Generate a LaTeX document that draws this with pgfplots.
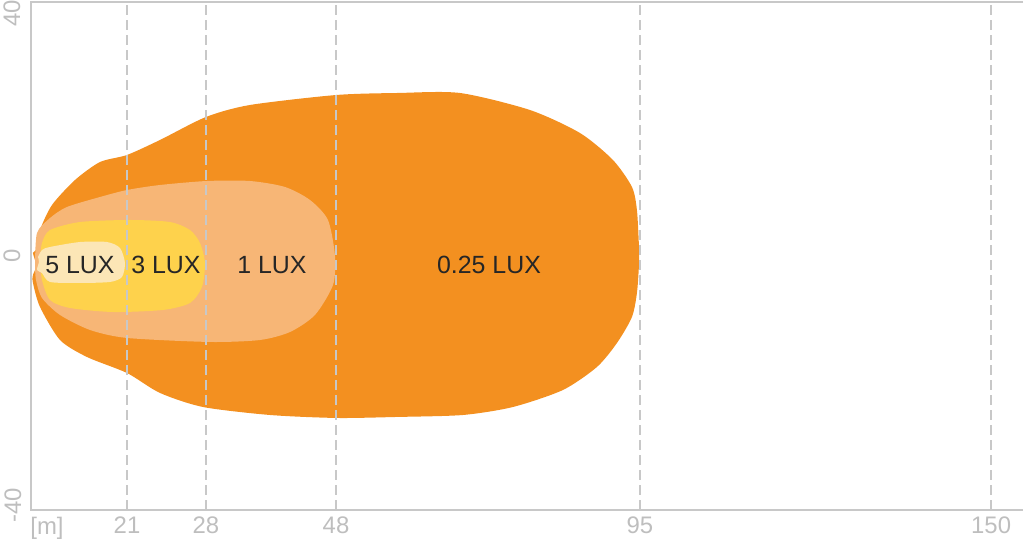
\documentclass[border=0pt]{standalone}
\usepackage{fontspec}
\setmainfont{Liberation Sans}
\usepackage{pgfplots}
\pgfplotsset{compat=1.18}

\definecolor{lux025}{RGB}{243,144,32}
\definecolor{lux1}{RGB}{247,182,118}
\definecolor{lux3}{RGB}{254,210,76}
\definecolor{lux5}{RGB}{252,230,182}
\definecolor{axgray}{RGB}{200,200,200}
\definecolor{lblgray}{RGB}{190,190,190}

\begin{document}
\begin{tikzpicture}
\begin{axis}[
    scale only axis,
    width=496bp, height=254bp,
    xmin=0, xmax=155.5,
    ymin=-40, ymax=40,
    axis on top,
    axis line style={draw=none},
    xtick={15.05,27.43,47.81,95.45,150.5},
    xticklabels={21,28,48,95,150},
    ytick=\empty,
    major tick length=0pt,
    xmajorgrids=true,
    grid style={axgray, line width=0.75bp, dash pattern=on 5bp off 2.5bp},
    /pgf/number format/assume math mode=true,
    xticklabel style={font=\fontsize{12}{12}\selectfont, text=lblgray},
    clip=false,
]
    % 0.25 lux
    \addplot[draw=none, fill=lux025, smooth, tension=0.45] coordinates {
        (0.95,-1.6) (0.3,0.5) (0.78,0.94) (1.41,4.09) (3.29,8.03) (6.90,11.97)
        (10.82,14.80) (15.05,15.91) (20.22,18.27) (27.43,21.89) (34.33,23.78)
        (47.81,25.35) (57.5,25.67) (67.24,25.67) (78.21,22.99) (86.05,19.37)
        (91.22,15.12) (94.2,10.87) (94.98,7.24) (95.3,1.42) (95.3,-1.42)
        (94.98,-5.83) (94.2,-9.61) (91.85,-13.70) (88.71,-17.48) (83.39,-21.10)
        (75.55,-23.78) (67.71,-25.04) (57.37,-25.35) (47.96,-25.51)
        (37.46,-25.04) (26.96,-23.78) (20.22,-21.57) (15.05,-18.43)
        (8.78,-15.91) (4.55,-13.23) (1.41,-8.03) (0.31,-4.25) (0.3,-3.0)
        (0.95,-1.6)
    };
    % 1 lux
    \addplot[draw=none, fill=lux1, smooth, tension=0.45] coordinates {
        (0.63,-1.42) (0.94,3.62) (2.98,5.98) (5.64,7.72) (10.82,9.29)
        (15.05,10.39) (20.22,11.18) (27.59,11.81) (34.33,11.81) (39.81,10.87)
        (43.73,8.82) (46.55,5.67) (47.65,0) (47.34,-4.57) (44.51,-9.29)
        (40.60,-11.97) (35.89,-13.23) (28.06,-13.54) (15.05,-12.91)
        (9.25,-11.65) (4.55,-9.29) (1.72,-6.61) (0.78,-3.78) (0.63,-1.42)
    };
    % 3 lux
    \addplot[draw=none, fill=lux3, smooth, tension=0.45] coordinates {
        (1.41,-0.63) (1.72,2.05) (2.98,4.09) (7.68,5.35) (15.52,5.67)
        (21.79,5.35) (24.92,4.09) (26.49,2.05) (27.27,-1.10) (26.80,-4.88)
        (24.92,-7.40) (20.69,-8.50) (12.85,-8.82) (6.11,-8.19) (2.98,-6.93)
        (1.72,-3.78) (1.41,-0.63)
    };
    % 5 lux
    \addplot[draw=none, fill=lux5, smooth, tension=0.45] coordinates {
        (1.10,-0.16) (1.72,0.94) (2.98,1.42) (7.68,2.20) (11.91,2.20)
        (13.95,1.26) (14.73,-1.10) (14.26,-3.31) (12.38,-4.09) (7.68,-4.25)
        (2.98,-4.09) (1.72,-2.68) (0.94,-2.20) (1.25,-0.94) (1.10,-0.16)
    };

    \node[text=black!85, font=\fontsize{12.5}{12.5}\selectfont] at (axis cs:7.68,-1.42) {5 LUX};
    \node[text=black!85, font=\fontsize{12.5}{12.5}\selectfont] at (axis cs:21.16,-1.42) {3 LUX};
    \node[text=black!85, font=\fontsize{12.5}{12.5}\selectfont] at (axis cs:37.77,-1.42) {1 LUX};
    \node[text=black!85, font=\fontsize{12.5}{12.5}\selectfont] at (axis cs:71.79,-1.42) {0.25 LUX};

    \draw[axgray, line width=0.75bp] (rel axis cs:1,1) -- (rel axis cs:0,1) -- (rel axis cs:0,0) -- (rel axis cs:1,0);

    \node[rotate=90, anchor=east, inner sep=0pt, text=lblgray, font=\fontsize{12}{12}\selectfont]
        at ([xshift=-9.5bp, yshift=1bp]rel axis cs:0,1) {40};
    \node[rotate=90, anchor=center, inner sep=0pt, text=lblgray, font=\fontsize{12}{12}\selectfont]
        at ([xshift=-9.5bp]axis cs:0,0) {0};
    \node[rotate=90, anchor=west, inner sep=0pt, text=lblgray, font=\fontsize{12}{12}\selectfont]
        at ([xshift=-9bp, yshift=-6.5bp]rel axis cs:0,0) {-40};
    \node[anchor=north west, inner sep=0pt, text=lblgray, font=\fontsize{12}{12}\selectfont]
        at ([xshift=-0.5bp, yshift=-3.5bp]rel axis cs:0,0) {[m]};

    \coordinate (bl) at (rel axis cs:0,0);
    \coordinate (tr) at (rel axis cs:1,1);
\end{axis}
\pgfresetboundingbox
\path[use as bounding box] ([xshift=-15.5bp, yshift=-18bp]bl) rectangle ([xshift=0.5bp, yshift=1bp]tr);
\end{tikzpicture}
\end{document}
